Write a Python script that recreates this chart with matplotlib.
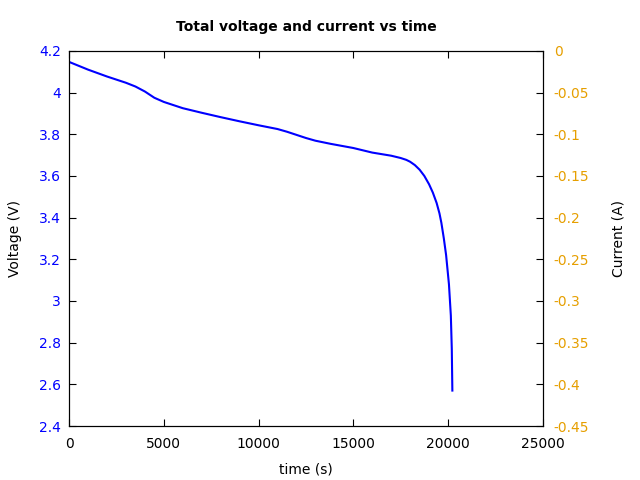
import matplotlib
matplotlib.use("Agg")
import matplotlib.pyplot as plt
from matplotlib.ticker import FuncFormatter

# discharge curve
time_s = [0, 1000, 2000, 3000, 3500, 4000, 4500, 5000, 6000, 7000, 8000,
          9000, 10000, 11000, 11500, 12000, 12500, 13000, 13800, 15000,
          16000, 17000, 17500, 17800, 18000, 18250, 18500, 18750, 19000,
          19200, 19400, 19550, 19650, 19780, 19900, 20050, 20150, 20200,
          20230]
voltage = [4.147, 4.11, 4.077, 4.047, 4.029, 4.005, 3.975, 3.955, 3.925,
           3.903, 3.882, 3.862, 3.843, 3.825, 3.812, 3.797, 3.782, 3.769,
           3.754, 3.734, 3.712, 3.697, 3.686, 3.677, 3.668, 3.652, 3.630,
           3.600, 3.560, 3.520, 3.470, 3.420, 3.375, 3.300, 3.220, 3.080,
           2.930, 2.770, 2.570]

v_ticks = [2.4, 2.6, 2.8, 3.0, 3.2, 3.4, 3.6, 3.8, 4.0, 4.2]
i_ticks = [0, -0.05, -0.1, -0.15, -0.2, -0.25, -0.3, -0.35, -0.4, -0.45]
t_ticks = [0, 5000, 10000, 15000, 20000, 25000]

blue = "#0000ff"
orange = "#e69f00"
fmt = FuncFormatter(lambda v, p: "%g" % round(v, 4))

fig = plt.figure(figsize=(6.4, 4.8), dpi=100)
ax = fig.add_axes([0.108, 0.1125, 0.74, 0.7815])
ax.plot(time_s, voltage, color=blue, lw=1.5)
ax.set_xlim(0, 25000)
ax.set_ylim(2.4, 4.2)
ax.set_xticks(t_ticks)
ax.set_yticks(v_ticks)
ax.xaxis.set_major_formatter(fmt)
ax.yaxis.set_major_formatter(fmt)
ax.tick_params(axis="x", direction="in", top=True, length=5, labelsize=10, pad=8)
ax.tick_params(axis="y", direction="in", length=5, labelsize=10, labelcolor=blue, pad=6)
ax.set_xlabel("time (s)", fontsize=10, labelpad=8)
ax.set_ylabel("Voltage (V)", fontsize=10, labelpad=12)

ax2 = ax.twinx()
ax2.set_ylim(-0.45, 0)
ax2.set_yticks(i_ticks)
ax2.yaxis.set_major_formatter(fmt)
ax2.tick_params(axis="y", direction="in", length=5, labelsize=10, labelcolor=orange, pad=8)
ax2.set_ylabel("Current (A)", fontsize=10, labelpad=16)

ax.set_title("Total voltage and current vs time", fontsize=10, fontweight="bold", pad=14)

fig.savefig("out.png", dpi=100)
